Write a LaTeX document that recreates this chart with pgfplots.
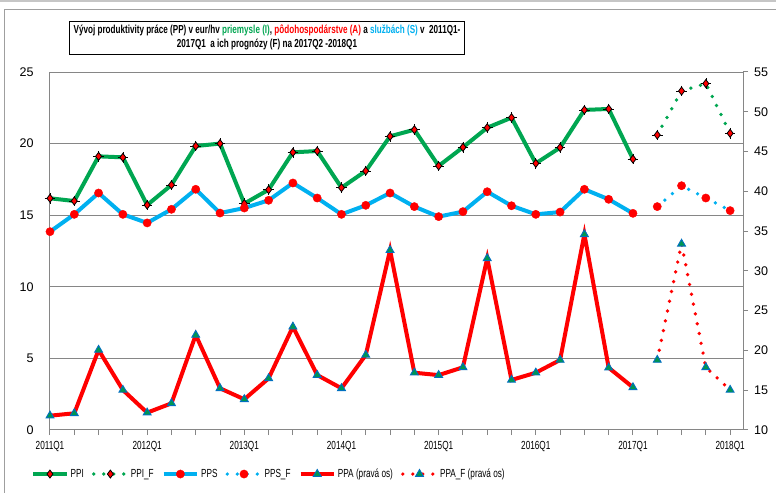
\documentclass[border=0pt]{standalone}
\usepackage{fontspec}
\setmainfont{Liberation Sans}
\newfontfamily\narrow{Liberation Sans}[FakeStretch=0.70]
\usepackage{pgfplots}
\pgfplotsset{compat=1.18}
\usetikzlibrary{calc}
\definecolor{cI}{RGB}{0,166,81}
\definecolor{cS}{RGB}{0,176,240}
\definecolor{cA}{RGB}{255,0,0}
\definecolor{tri}{RGB}{0,150,80}
\definecolor{triE}{RGB}{0,112,192}
\definecolor{gridc}{RGB}{134,134,134}

\pgfplotstableread{
x y
0 16.18
1 15.99
2 19.11
3 19.04
4 15.71
5 17.11
6 19.83
7 20.00
8 15.81
9 16.78
10 19.39
11 19.48
12 16.92
13 18.09
14 20.51
15 20.97
16 18.44
17 19.74
18 21.11
19 21.81
20 18.62
21 19.72
22 22.35
23 22.42
24 18.92
}\PPI
\pgfplotstableread{
x y
25 20.60
26 23.67
27 24.19
28 20.72
}\PPIF
\pgfplotstableread{
x y
0 13.85
1 15.06
2 16.55
3 15.06
4 14.46
5 15.41
6 16.81
7 15.15
8 15.50
9 16.04
10 17.25
11 16.20
12 15.06
13 15.69
14 16.55
15 15.60
16 14.90
17 15.25
18 16.64
19 15.66
20 15.06
21 15.22
22 16.81
23 16.11
24 15.13
}\PPS
\pgfplotstableread{
x y
25 15.60
26 17.06
27 16.20
28 15.32
}\PPSF
\pgfplotstableread{
x y
0 11.80
1 12.10
2 20.06
3 15.03
4 12.18
5 13.35
6 21.94
7 15.24
8 13.86
9 16.49
10 22.98
11 16.91
12 15.24
13 19.43
14 32.60
15 17.20
16 16.90
17 17.88
18 31.58
19 16.29
20 17.20
21 18.80
22 34.60
23 17.83
24 15.36
}\PPA
\pgfplotstableread{
x y
25 18.80
26 33.40
27 17.88
28 15.03
}\PPAF

\pgfplotsset{
  linemark legend/.style={legend image code/.code={%
    \draw[##1,mark repeat=2,mark phase=2] plot coordinates {(0pt,0pt) (12.5pt,0pt) (25pt,0pt)};}},
  dotline/.style={line width=2.8pt, line cap=round, dash pattern=on 0pt off 7.5pt},
  commonax/.style={
    scale only axis,
    width=519.75pt, height=268.5pt, xmin=0, xmax=28.53,
    tick align=outside, major tick length=3.75pt,
    axis line style={gridc, line width=0.75pt},
    tick style={gridc, line width=0.75pt},
    /pgf/number format/assume math mode=true,
  },
  diamk/.style={mark=diamond*, mark size=3.0pt, mark options={solid, fill=red, draw=black, line width=0.6pt}},
  circk/.style={mark=*, mark size=3.1pt, mark options={solid, fill=red, draw=red, line width=0.3pt}},
  trik/.style={mark=triangle*, mark size=3.4pt, mark options={solid, fill=tri, draw=triE, line width=0.7pt}},
}

\begin{document}
\begin{tikzpicture}
\begin{axis}[commonax,
  ymin=0, ymax=25, ytick={0,5,...,25},
  axis x line*=bottom, axis y line*=left,
  ymajorgrids, grid style={gridc, line width=0.75pt},
  ytick style={draw=none},
  xtick={0,...,28},
  xticklabels={2011Q1,,,,2012Q1,,,,2013Q1,,,,2014Q1,,,,2015Q1,,,,2016Q1,,,,2017Q1,,,,2018Q1},
  xticklabel style={font=\narrow\fontsize{8.8}{10}\selectfont, yshift=-1pt},
  yticklabel style={font=\fontsize{9.4}{11}\selectfont, xshift=-5pt},
]
\coordinate (O) at (rel axis cs:0,0);
\addplot[cI, line width=3pt, forget plot] table {\PPI};
\addplot[only marks, mark=+, mark size=4pt, mark options={black, line width=0.5pt}, forget plot] table {\PPI};
\addplot[only marks, diamk, forget plot] table {\PPI};
\addplot[cI, dotline, forget plot] table {\PPIF};
\addplot[only marks, mark=+, mark size=4pt, mark options={black, line width=0.5pt}, forget plot] table {\PPIF};
\addplot[only marks, diamk, forget plot] table {\PPIF};
\addplot[cS, line width=3pt, circk, forget plot] table {\PPS};
\addplot[cS, dotline, circk, forget plot] table {\PPSF};
\end{axis}

\begin{axis}[commonax,
  ymin=10, ymax=55, ytick={10,15,...,55},
  axis y line*=right, axis x line=none,
  yticklabel style={font=\fontsize{9.4}{11}\selectfont, xshift=1pt},
  legend columns=6,
  legend style={at={(rel axis cs:0.316,-0.123)}, anchor=center, draw=none, fill=none,
    font=\narrow\fontsize{8.8}{10}\selectfont,
    nodes={inner xsep=1.5pt},
    /tikz/every even column/.append style={column sep=4.5pt},
    /tikz/every odd column/.append style={column sep=0pt}},
  legend cell align=left,
]
\addlegendimage{cI, line width=3pt, diamk, linemark legend}
\addlegendentry{PPI}
\addlegendimage{cI, dotline, diamk, linemark legend}
\addlegendentry{PPI\_F}
\addlegendimage{cS, line width=3pt, circk, linemark legend}
\addlegendentry{PPS}
\addlegendimage{cS, dotline, circk, linemark legend}
\addlegendentry{PPS\_F}
\addplot[cA, line width=3pt, trik, linemark legend] table {\PPA};
\addlegendentry{PPA (pravá os)}
\addplot[cA, dotline, trik, linemark legend] table {\PPAF};
\addlegendentry{PPA\_F (pravá os)}
\end{axis}

\begin{scope}[shift={($(O)+(-37.5pt,-47.25pt)$)}, x=1pt, y=1pt]
\fill[gray!45] (0,368.25) rectangle (582,369.75);
\draw[gray!75, line width=0.75pt] (3.75,0) -- (3.75,362.25) -- (582,362.25);
\node[draw=black, line width=0.75pt, fill=white, align=center, inner sep=2pt,
  minimum width=296pt, minimum height=24.75pt,
  font=\narrow\bfseries\fontsize{8.7}{11}\selectfont] at (200.25,341.6)
  {Vývoj produktivity práce (PP) v eur/hv {\color{cI}priemysle (I)}, {\color{cA}pôdohospodárstve (A)} a {\color{cS}službách (S)} v\ \ 2011Q1-\\2017Q1\ \ a ich prognózy (F) na 2017Q2 -2018Q1};
\pgfresetboundingbox
\useasboundingbox (0,0) rectangle (582,369.75);
\end{scope}
\end{tikzpicture}
\end{document}
